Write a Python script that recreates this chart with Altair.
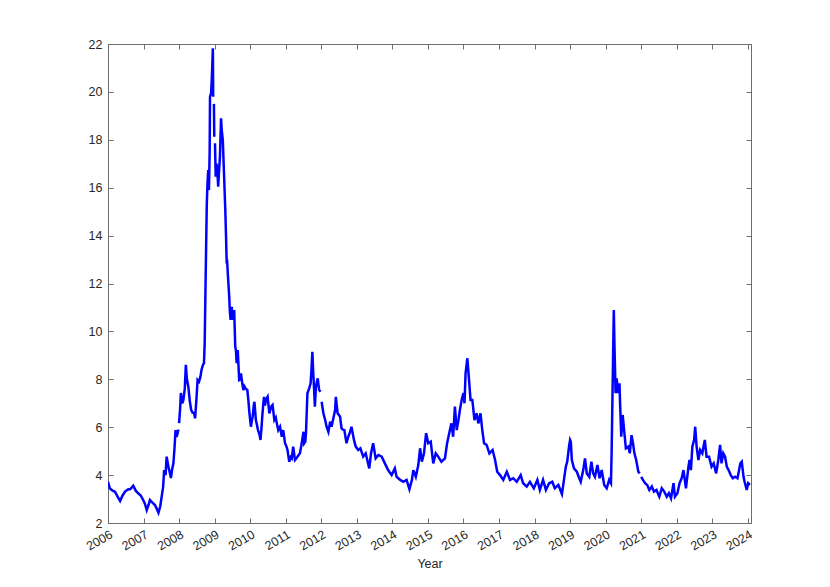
import altair as alt
import pandas as pd

years = [
    2006.00, 2006.05, 2006.12, 2006.20, 2006.27, 2006.34, 2006.41, 2006.48, 2006.56, 2006.63,
    2006.71, 2006.78, 2006.85, 2006.92, 2006.99, 2007.04, 2007.09, 2007.14, 2007.18, 2007.25,
    2007.32, 2007.37, 2007.42, 2007.47, 2007.51, 2007.55, 2007.58, 2007.62, 2007.65, 2007.70,
    2007.74, 2007.77, 2007.80, 2007.84, 2007.87, 2007.90, 2007.93, 2007.96, 2007.98, 2007.99,
    2008.00, 2008.03, 2008.05, 2008.09, 2008.12, 2008.16, 2008.19, 2008.22, 2008.26, 2008.30,
    2008.34, 2008.38, 2008.42, 2008.45, 2008.49, 2008.52, 2008.56, 2008.60, 2008.63, 2008.67,
    2008.70, 2008.72, 2008.74, 2008.76, 2008.78, 2008.80, 2008.82, 2008.84, 2008.86, 2008.87,
    2008.90, 2008.92, 2008.95, 2008.96, 2008.97, 2008.98, 2008.99, 2009.00, 2009.01, 2009.03,
    2009.05, 2009.07, 2009.10, 2009.12, 2009.15, 2009.18, 2009.20, 2009.23, 2009.26, 2009.30,
    2009.32, 2009.34, 2009.35, 2009.37, 2009.41, 2009.43, 2009.45, 2009.48, 2009.51, 2009.55,
    2009.58, 2009.60, 2009.62, 2009.65, 2009.67, 2009.69, 2009.72, 2009.74, 2009.78, 2009.81,
    2009.84, 2009.87, 2009.92, 2009.95, 2009.98, 2010.02, 2010.05, 2010.07, 2010.10, 2010.12,
    2010.16, 2010.19, 2010.22, 2010.26, 2010.29, 2010.32, 2010.34, 2010.37, 2010.39, 2010.42,
    2010.44, 2010.49, 2010.54, 2010.59, 2010.63, 2010.68, 2010.72, 2010.75, 2010.79, 2010.84,
    2010.89, 2010.93, 2010.98, 2011.02, 2011.05, 2011.10, 2011.14, 2011.17, 2011.21, 2011.26,
    2011.30, 2011.33, 2011.37, 2011.40, 2011.45, 2011.50, 2011.52, 2011.55, 2011.57, 2011.61,
    2011.66, 2011.70, 2011.72, 2011.75, 2011.77, 2011.80, 2011.82, 2011.85, 2011.90, 2011.94,
    2011.98, 2011.995, 2012.01, 2012.06, 2012.11, 2012.15, 2012.20, 2012.25, 2012.29, 2012.34,
    2012.39, 2012.41, 2012.46, 2012.50, 2012.53, 2012.57, 2012.61, 2012.65, 2012.71, 2012.76,
    2012.81, 2012.85, 2012.92, 2012.97, 2013.04, 2013.10, 2013.18, 2013.25, 2013.35, 2013.40,
    2013.46, 2013.53, 2013.61, 2013.70, 2013.79, 2013.88, 2013.98, 2014.07, 2014.12, 2014.22,
    2014.31, 2014.40, 2014.48, 2014.55, 2014.59, 2014.66, 2014.73, 2014.78, 2014.83, 2014.89,
    2014.95, 2015.01, 2015.08, 2015.15, 2015.22, 2015.29, 2015.38, 2015.48, 2015.54, 2015.60,
    2015.66, 2015.71, 2015.76, 2015.81, 2015.86, 2015.90, 2015.95, 2016.00, 2016.03, 2016.06,
    2016.11, 2016.15, 2016.20, 2016.25, 2016.31, 2016.37, 2016.42, 2016.48, 2016.53, 2016.58,
    2016.65, 2016.73, 2016.82, 2016.89, 2016.95, 2017.03, 2017.12, 2017.22, 2017.31, 2017.40,
    2017.50, 2017.61, 2017.68, 2017.78, 2017.87, 2017.98, 2018.08, 2018.15, 2018.24, 2018.32,
    2018.41, 2018.50, 2018.57, 2018.67, 2018.77, 2018.82, 2018.88, 2018.92, 2018.97, 2019.00,
    2019.02, 2019.05, 2019.11, 2019.19, 2019.25, 2019.30, 2019.37, 2019.42, 2019.47, 2019.54,
    2019.60, 2019.65, 2019.70, 2019.77, 2019.83, 2019.89, 2019.96, 2020.03, 2020.10, 2020.15,
    2020.17, 2020.20, 2020.23, 2020.25, 2020.28, 2020.31, 2020.35, 2020.39, 2020.41, 2020.44,
    2020.48, 2020.52, 2020.57, 2020.64, 2020.68, 2020.73, 2020.77, 2020.81, 2020.86, 2020.92,
    2020.96, 2020.98, 2021.00, 2021.05, 2021.11, 2021.17, 2021.23, 2021.30, 2021.36, 2021.43,
    2021.51, 2021.58, 2021.65, 2021.72, 2021.78, 2021.84, 2021.91, 2021.95, 2022.02, 2022.08,
    2022.14, 2022.19, 2022.26, 2022.33, 2022.36, 2022.40, 2022.44, 2022.49, 2022.52, 2022.56,
    2022.61, 2022.66, 2022.72, 2022.79, 2022.81, 2022.84, 2022.91, 2022.98, 2023.04, 2023.11,
    2023.17, 2023.22, 2023.26, 2023.31, 2023.36, 2023.41, 2023.46, 2023.52, 2023.58, 2023.64,
    2023.71, 2023.79, 2023.83, 2023.88, 2023.91, 2023.97, 2024.01, 2024.06,
]

values = [
    3.72, 3.45, 3.36, 3.30, 3.10, 2.92, 3.15, 3.31, 3.40, 3.42,
    3.56, 3.35, 3.24, 3.15, 2.96, 2.80, 2.54, 2.75, 2.96, 2.85,
    2.75, 2.60, 2.43, 2.70, 3.10, 3.50, 4.21, 4.00, 4.77, 4.35,
    4.10, 3.88, 4.20, 4.49, 5.10, 5.88, 5.60, 5.75, 5.90, None,
    6.17, 6.80, 7.43, 7.00, 7.14, 7.60, 8.60, 8.00, 7.69, 7.10,
    6.72, 6.60, 6.60, 6.37, 7.20, 7.97, 7.90, 8.10, 8.39, 8.60,
    8.67, 9.50, 11.50, 13.50, 15.35, 16.20, 16.74, 15.90, 17.50, 19.80,
    19.94, 20.50, 21.82, 19.80, None, 19.50, 18.13, None, 17.86, 16.46,
    17.00, 16.88, 16.04, 16.60, 17.30, 18.90, 18.40, 17.99, 16.74, 15.07,
    14.00, 12.84, 13.00, 12.43, 11.45, 10.80, 10.48, 11.03, 10.48, 10.89,
    9.36, 9.20, 8.67, 9.22, 8.60, 7.97, 8.00, 8.25, 7.80, 7.55,
    7.70, 7.62, 7.55, 7.10, 6.58, 6.02, 6.30, 6.44, 6.90, 7.06,
    6.30, 6.10, 5.88, 5.70, 5.47, 6.00, 6.44, 7.00, 7.27, 6.90,
    7.14, 7.27, 6.58, 6.86, 6.93, 6.30, 6.40, 6.16, 5.88, 6.02,
    5.60, 5.88, 5.33, 5.20, 5.05, 4.56, 4.75, 4.70, 5.19, 4.63,
    4.70, 4.77, 4.85, 4.91, 5.33, 5.81, 5.33, 5.40, 5.75, 7.42,
    7.62, 7.83, 8.30, 9.15, 8.40, 7.55, 6.86, 7.69, 8.04, 7.55,
    7.48, None, 7.06, 6.58, 6.30, 6.02, 5.81, 6.23, 6.02, 6.37,
    6.72, 7.27, 6.58, 6.50, 6.44, 5.95, 5.90, 5.88, 5.33, 5.60,
    5.80, 6.02, 5.47, 5.19, 5.05, 5.12, 4.77, 4.91, 4.28, 4.91,
    5.33, 4.70, 4.84, 4.77, 4.49, 4.21, 4.00, 4.28, 3.93, 3.80,
    3.72, 3.80, 3.41, 3.80, 4.21, 3.93, 4.42, 5.12, 4.56, 4.91,
    5.75, 5.33, 5.40, 4.49, 4.91, 4.77, 4.56, 4.70, 5.33, 5.75,
    6.16, 5.60, 6.86, 5.88, 6.30, 6.72, 7.14, 7.42, 7.00, 8.25,
    8.88, 8.11, 7.14, 7.14, 6.30, 6.58, 6.16, 6.58, 5.88, 5.33,
    5.26, 4.91, 5.05, 4.63, 4.14, 4.00, 3.80, 4.14, 3.80, 3.87,
    3.72, 4.00, 3.66, 3.52, 3.72, 3.45, 3.80, 3.38, 3.80, 3.38,
    3.66, 3.72, 3.45, 3.59, 3.21, 3.72, 4.35, 4.56, 5.19, 5.47,
    5.40, 4.63, 4.28, 4.14, 3.90, 3.72, 4.21, 4.70, 4.07, 3.93,
    4.56, 4.07, 3.93, 4.42, 3.87, 4.21, 3.59, 3.45, 3.80, 3.66,
    5.05, 7.97, 10.89, 9.36, 7.42, 8.04, 7.42, 7.83, 6.86, 5.60,
    6.51, 5.88, 5.12, 5.19, 4.91, 5.67, 5.33, 4.91, 4.63, 4.14,
    4.07, None, 3.93, 3.80, 3.66, 3.59, 3.38, 3.52, 3.31, 3.38,
    3.10, 3.45, 3.31, 3.10, 3.24, 3.03, 3.66, 3.10, 3.24, 3.66,
    3.87, 4.21, 3.45, 4.35, 4.63, 4.21, 5.19, 5.47, 6.02, 5.19,
    4.63, 5.05, 4.91, 5.47, 5.19, 4.77, 4.77, 4.35, 4.49, 4.07,
    4.63, 5.26, 4.49, 4.91, 4.77, 4.35, 4.21, 4.00, 3.87, 3.93,
    3.87, 4.49, 4.56, 3.93, 3.72, 3.38, 3.66, 3.59,
]

x_ticks = list(range(2006, 2025))
y_ticks = list(range(2, 23, 2))

df = pd.DataFrame({"year": years, "value": values})

W, H = 643, 479
FONT = "Liberation Sans"
AX = "#6e6e6e"
LAB = "#262626"

xs = alt.Scale(domain=[2006, 2024.09], nice=False, zero=False)
ys = alt.Scale(domain=[2, 22], nice=False, zero=False)

base = alt.Chart(df)

line = base.mark_line(color="#0000ff", strokeWidth=2.5, clip=True).encode(
    x=alt.X("year:Q", scale=xs, axis=alt.Axis(
        values=x_ticks, format="d", labelAngle=-30, labelAlign="right",
        labelBaseline="middle", labelPadding=10, labelOffset=3, tickSize=0,
        domain=False, grid=False, labelOverlap=False, labelFlush=False,
        title="Year", titlePadding=5,
        titleFontWeight="normal", titleFontSize=12.5, titleColor=LAB,
        labelFontSize=12.5, labelColor=LAB, labelFont=FONT, titleFont=FONT)),
    y=alt.Y("value:Q", scale=ys, axis=alt.Axis(
        values=y_ticks, tickSize=0, domain=False, grid=False, labelPadding=6,
        labelOverlap=False, labelFlush=False, title=None,
        labelFontSize=12.5, labelColor=LAB, labelFont=FONT)),
)

ticks_a = base.mark_point(opacity=0).encode(
    x=alt.X("year:Q", scale=xs, axis=alt.Axis(
        orient="top", offset=-H, values=x_ticks, labels=False, tickSize=5,
        tickColor=AX, domain=False, grid=False, title=None)),
    y=alt.Y("value:Q", scale=ys, axis=alt.Axis(
        orient="right", offset=-W, values=y_ticks, labels=False, tickSize=5,
        tickColor=AX, domain=False, grid=False, title=None)),
)

ticks_b = base.mark_point(opacity=0).encode(
    x=alt.X("year:Q", scale=xs, axis=alt.Axis(
        orient="bottom", offset=-H, values=x_ticks, labels=False, tickSize=5,
        tickColor=AX, domain=False, grid=False, title=None)),
    y=alt.Y("value:Q", scale=ys, axis=alt.Axis(
        orient="left", offset=-W, values=y_ticks, labels=False, tickSize=5,
        tickColor=AX, domain=False, grid=False, title=None)),
)

chart = alt.layer(line, ticks_a, ticks_b).resolve_axis(
    x="independent", y="independent"
).properties(
    width=W, height=H,
    autosize=alt.AutoSizeParams(type="none"),
    padding={"left": 100, "top": 36, "right": 70, "bottom": 55},
    background="white",
).configure_view(
    stroke=AX, strokeWidth=1
)

chart.save("out.html", embed_options={"renderer": "svg", "actions": False})
